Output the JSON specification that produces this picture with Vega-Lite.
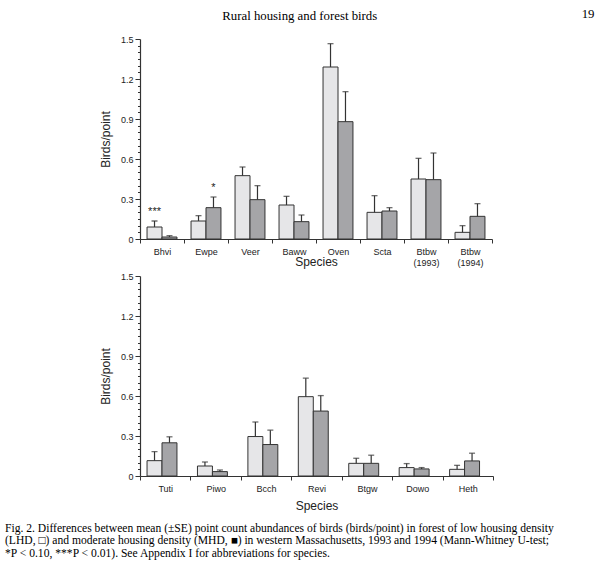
{
  "$schema": "https://vega.github.io/schema/vega-lite/v6.json",
  "background": "white",
  "padding": {"left": 5, "top": 8, "right": 5, "bottom": 5},
  "title": {"text": "Rural housing and forest birds", "font": "Liberation Serif", "fontSize": 12.8, "fontWeight": "normal", "color": "black", "anchor": "middle", "dx": 0, "offset": -15},
  "datasets": {
    "top": [
      {"species": "Bhvi", "group": "LHD", "mean": 0.09, "upper": 0.135, "sig": "***"},
      {"species": "Bhvi", "group": "MHD", "mean": 0.015, "upper": 0.025, "sig": ""},
      {"species": "Ewpe", "group": "LHD", "mean": 0.135, "upper": 0.175, "sig": ""},
      {"species": "Ewpe", "group": "MHD", "mean": 0.235, "upper": 0.315, "sig": "*"},
      {"species": "Veer", "group": "LHD", "mean": 0.475, "upper": 0.54, "sig": ""},
      {"species": "Veer", "group": "MHD", "mean": 0.295, "upper": 0.4, "sig": ""},
      {"species": "Baww", "group": "LHD", "mean": 0.255, "upper": 0.32, "sig": ""},
      {"species": "Baww", "group": "MHD", "mean": 0.13, "upper": 0.18, "sig": ""},
      {"species": "Oven", "group": "LHD", "mean": 1.29, "upper": 1.465, "sig": ""},
      {"species": "Oven", "group": "MHD", "mean": 0.88, "upper": 1.105, "sig": ""},
      {"species": "Scta", "group": "LHD", "mean": 0.2, "upper": 0.325, "sig": ""},
      {"species": "Scta", "group": "MHD", "mean": 0.21, "upper": 0.235, "sig": ""},
      {"species": "Btbw (1993)", "group": "LHD", "mean": 0.45, "upper": 0.605, "sig": ""},
      {"species": "Btbw (1993)", "group": "MHD", "mean": 0.445, "upper": 0.645, "sig": ""},
      {"species": "Btbw (1994)", "group": "LHD", "mean": 0.05, "upper": 0.1, "sig": ""},
      {"species": "Btbw (1994)", "group": "MHD", "mean": 0.17, "upper": 0.265, "sig": ""}
    ],
    "bottom": [
      {"species": "Tuti", "group": "LHD", "mean": 0.115, "upper": 0.183, "sig": ""},
      {"species": "Tuti", "group": "MHD", "mean": 0.249, "upper": 0.294, "sig": ""},
      {"species": "Piwo", "group": "LHD", "mean": 0.075, "upper": 0.105, "sig": ""},
      {"species": "Piwo", "group": "MHD", "mean": 0.033, "upper": 0.045, "sig": ""},
      {"species": "Bcch", "group": "LHD", "mean": 0.296, "upper": 0.405, "sig": ""},
      {"species": "Bcch", "group": "MHD", "mean": 0.236, "upper": 0.344, "sig": ""},
      {"species": "Revi", "group": "LHD", "mean": 0.595, "upper": 0.734, "sig": ""},
      {"species": "Revi", "group": "MHD", "mean": 0.487, "upper": 0.603, "sig": ""},
      {"species": "Btgw", "group": "LHD", "mean": 0.095, "upper": 0.133, "sig": ""},
      {"species": "Btgw", "group": "MHD", "mean": 0.095, "upper": 0.156, "sig": ""},
      {"species": "Dowo", "group": "LHD", "mean": 0.063, "upper": 0.093, "sig": ""},
      {"species": "Dowo", "group": "MHD", "mean": 0.053, "upper": 0.063, "sig": ""},
      {"species": "Heth", "group": "LHD", "mean": 0.05, "upper": 0.08, "sig": ""},
      {"species": "Heth", "group": "MHD", "mean": 0.113, "upper": 0.171, "sig": ""}
    ]
  },
  "spacing": 5,
  "vconcat": [
    {
      "width": 352,
      "height": 200,
      "data": {"name": "top"},
      "title": {"text": "19", "font": "Liberation Serif", "fontSize": 12.8, "fontWeight": "normal", "color": "black", "anchor": "end", "dx": 102, "offset": 14},
      "encoding": {
        "x": {"field": "species", "type": "nominal", "sort": null, "scale": {"paddingInner": 0, "paddingOuter": 0},
          "axis": {"tickBand": "extent", "labelExpr": "split(datum.label, ' ')", "labelAngle": 0, "labelPadding": 4, "tickSize": 4, "title": "Species", "titleY": 26, "titleBaseline": "alphabetic"}},
        "xOffset": {"field": "group", "type": "nominal", "sort": ["LHD", "MHD"], "scale": {"paddingInner": 0, "paddingOuter": 0.47}}
      },
      "layer": [
        {"mark": {"type": "bar", "stroke": "#333", "strokeWidth": 1},
          "encoding": {
            "y": {"field": "mean", "type": "quantitative", "scale": {"domain": [0, 1.5], "nice": false},
              "axis": {"title": "Birds/point", "titlePadding": 8, "labelOverlap": false,
                "values": [0,0.05,0.1,0.15,0.2,0.25,0.3,0.35,0.4,0.45,0.5,0.55,0.6,0.65,0.7,0.75,0.8,0.85,0.9,0.95,1,1.05,1.1,1.15,1.2,1.25,1.3,1.35,1.4,1.45,1.5],
                "labelExpr": "round(datum.value*20) % 6 == 0 ? (datum.value == 0 ? '0' : format(datum.value, '.1f')) : ''",
                "tickSize": {"condition": {"test": "round(datum.value*20) % 6 == 0", "value": 5}, "value": 2.5},
                "labelPadding": 2}},
            "fill": {"field": "group", "type": "nominal", "scale": {"domain": ["LHD", "MHD"], "range": ["#e6e6e8", "#a5a5a8"]}, "legend": null}
          }},
        {"mark": {"type": "rule", "color": "#333", "strokeWidth": 1.2},
          "encoding": {"y": {"field": "mean", "type": "quantitative",
              "axis": {"title": "Birds/point", "titlePadding": 8, "labelOverlap": false,
                "values": [0,0.05,0.1,0.15,0.2,0.25,0.3,0.35,0.4,0.45,0.5,0.55,0.6,0.65,0.7,0.75,0.8,0.85,0.9,0.95,1,1.05,1.1,1.15,1.2,1.25,1.3,1.35,1.4,1.45,1.5],
                "labelExpr": "round(datum.value*20) % 6 == 0 ? (datum.value == 0 ? '0' : format(datum.value, '.1f')) : ''",
                "tickSize": {"condition": {"test": "round(datum.value*20) % 6 == 0", "value": 5}, "value": 2.5},
                "labelPadding": 2}}, "y2": {"field": "upper"}}},
        {"mark": {"type": "tick", "orient": "horizontal", "size": 6, "thickness": 1.3, "color": "#333"},
          "encoding": {"y": {"field": "upper", "type": "quantitative",
              "axis": {"title": "Birds/point", "titlePadding": 8, "labelOverlap": false,
                "values": [0,0.05,0.1,0.15,0.2,0.25,0.3,0.35,0.4,0.45,0.5,0.55,0.6,0.65,0.7,0.75,0.8,0.85,0.9,0.95,1,1.05,1.1,1.15,1.2,1.25,1.3,1.35,1.4,1.45,1.5],
                "labelExpr": "round(datum.value*20) % 6 == 0 ? (datum.value == 0 ? '0' : format(datum.value, '.1f')) : ''",
                "tickSize": {"condition": {"test": "round(datum.value*20) % 6 == 0", "value": 5}, "value": 2.5},
                "labelPadding": 2}}}},
        {"transform": [{"filter": "datum.sig != ''"}],
          "mark": {"type": "text", "baseline": "bottom", "dy": -4, "fontSize": 11, "font": "Liberation Sans", "color": "#222"},
          "encoding": {"y": {"field": "upper", "type": "quantitative",
              "axis": {"title": "Birds/point", "titlePadding": 8, "labelOverlap": false,
                "values": [0,0.05,0.1,0.15,0.2,0.25,0.3,0.35,0.4,0.45,0.5,0.55,0.6,0.65,0.7,0.75,0.8,0.85,0.9,0.95,1,1.05,1.1,1.15,1.2,1.25,1.3,1.35,1.4,1.45,1.5],
                "labelExpr": "round(datum.value*20) % 6 == 0 ? (datum.value == 0 ? '0' : format(datum.value, '.1f')) : ''",
                "tickSize": {"condition": {"test": "round(datum.value*20) % 6 == 0", "value": 5}, "value": 2.5},
                "labelPadding": 2}}, "text": {"field": "sig"}}}
      ]
    },
    {
      "width": 353,
      "height": 200,
      "data": {"name": "bottom"},
      "title": {"text": [
          "Fig. 2. Differences between mean (±SE) point count abundances of birds (birds/point) in forest of low housing density",
          "(LHD, □) and moderate housing density (MHD, ■) in western Massachusetts, 1993 and 1994 (Mann-Whitney U-test;",
          "*P < 0.10, ***P < 0.01). See Appendix I for abbreviations for species."
        ],
        "orient": "bottom", "anchor": "start", "frame": "group", "dx": -135, "offset": 12,
        "font": "Liberation Serif", "fontSize": 11.6, "fontWeight": "normal", "color": "black", "lineHeight": 12.4, "baseline": "top"},
      "encoding": {
        "x": {"field": "species", "type": "nominal", "sort": null, "scale": {"paddingInner": 0, "paddingOuter": 0},
          "axis": {"tickBand": "extent", "labelAngle": 0, "labelPadding": 4, "tickSize": 4, "title": "Species", "titleY": 33, "titleBaseline": "alphabetic"}},
        "xOffset": {"field": "group", "type": "nominal", "sort": ["LHD", "MHD"], "scale": {"paddingInner": 0, "paddingOuter": 0.47}}
      },
      "layer": [
        {"mark": {"type": "bar", "stroke": "#333", "strokeWidth": 1},
          "encoding": {
            "y": {"field": "mean", "type": "quantitative", "scale": {"domain": [0, 1.5], "nice": false},
              "axis": {"title": "Birds/point", "titlePadding": 8, "labelOverlap": false,
                "values": [0,0.05,0.1,0.15,0.2,0.25,0.3,0.35,0.4,0.45,0.5,0.55,0.6,0.65,0.7,0.75,0.8,0.85,0.9,0.95,1,1.05,1.1,1.15,1.2,1.25,1.3,1.35,1.4,1.45,1.5],
                "labelExpr": "round(datum.value*20) % 6 == 0 ? (datum.value == 0 ? '0' : format(datum.value, '.1f')) : ''",
                "tickSize": {"condition": {"test": "round(datum.value*20) % 6 == 0", "value": 5}, "value": 2.5},
                "labelPadding": 2}},
            "fill": {"field": "group", "type": "nominal", "scale": {"domain": ["LHD", "MHD"], "range": ["#e6e6e8", "#a5a5a8"]}, "legend": null}
          }},
        {"mark": {"type": "rule", "color": "#333", "strokeWidth": 1.2},
          "encoding": {"y": {"field": "mean", "type": "quantitative",
              "axis": {"title": "Birds/point", "titlePadding": 8, "labelOverlap": false,
                "values": [0,0.05,0.1,0.15,0.2,0.25,0.3,0.35,0.4,0.45,0.5,0.55,0.6,0.65,0.7,0.75,0.8,0.85,0.9,0.95,1,1.05,1.1,1.15,1.2,1.25,1.3,1.35,1.4,1.45,1.5],
                "labelExpr": "round(datum.value*20) % 6 == 0 ? (datum.value == 0 ? '0' : format(datum.value, '.1f')) : ''",
                "tickSize": {"condition": {"test": "round(datum.value*20) % 6 == 0", "value": 5}, "value": 2.5},
                "labelPadding": 2}}, "y2": {"field": "upper"}}},
        {"mark": {"type": "tick", "orient": "horizontal", "size": 6, "thickness": 1.3, "color": "#333"},
          "encoding": {"y": {"field": "upper", "type": "quantitative",
              "axis": {"title": "Birds/point", "titlePadding": 8, "labelOverlap": false,
                "values": [0,0.05,0.1,0.15,0.2,0.25,0.3,0.35,0.4,0.45,0.5,0.55,0.6,0.65,0.7,0.75,0.8,0.85,0.9,0.95,1,1.05,1.1,1.15,1.2,1.25,1.3,1.35,1.4,1.45,1.5],
                "labelExpr": "round(datum.value*20) % 6 == 0 ? (datum.value == 0 ? '0' : format(datum.value, '.1f')) : ''",
                "tickSize": {"condition": {"test": "round(datum.value*20) % 6 == 0", "value": 5}, "value": 2.5},
                "labelPadding": 2}}}}
      ]
    }
  ],
  "config": {
    "view": {"stroke": null},
    "axis": {"grid": false, "labelFont": "Liberation Sans", "labelFontSize": 9, "labelColor": "#222", "titleFont": "Liberation Sans", "titleFontSize": 12, "titleFontWeight": "normal", "titleColor": "#222", "domainColor": "#333", "tickColor": "#333", "domainWidth": 1.2, "tickWidth": 1}
  }
}
